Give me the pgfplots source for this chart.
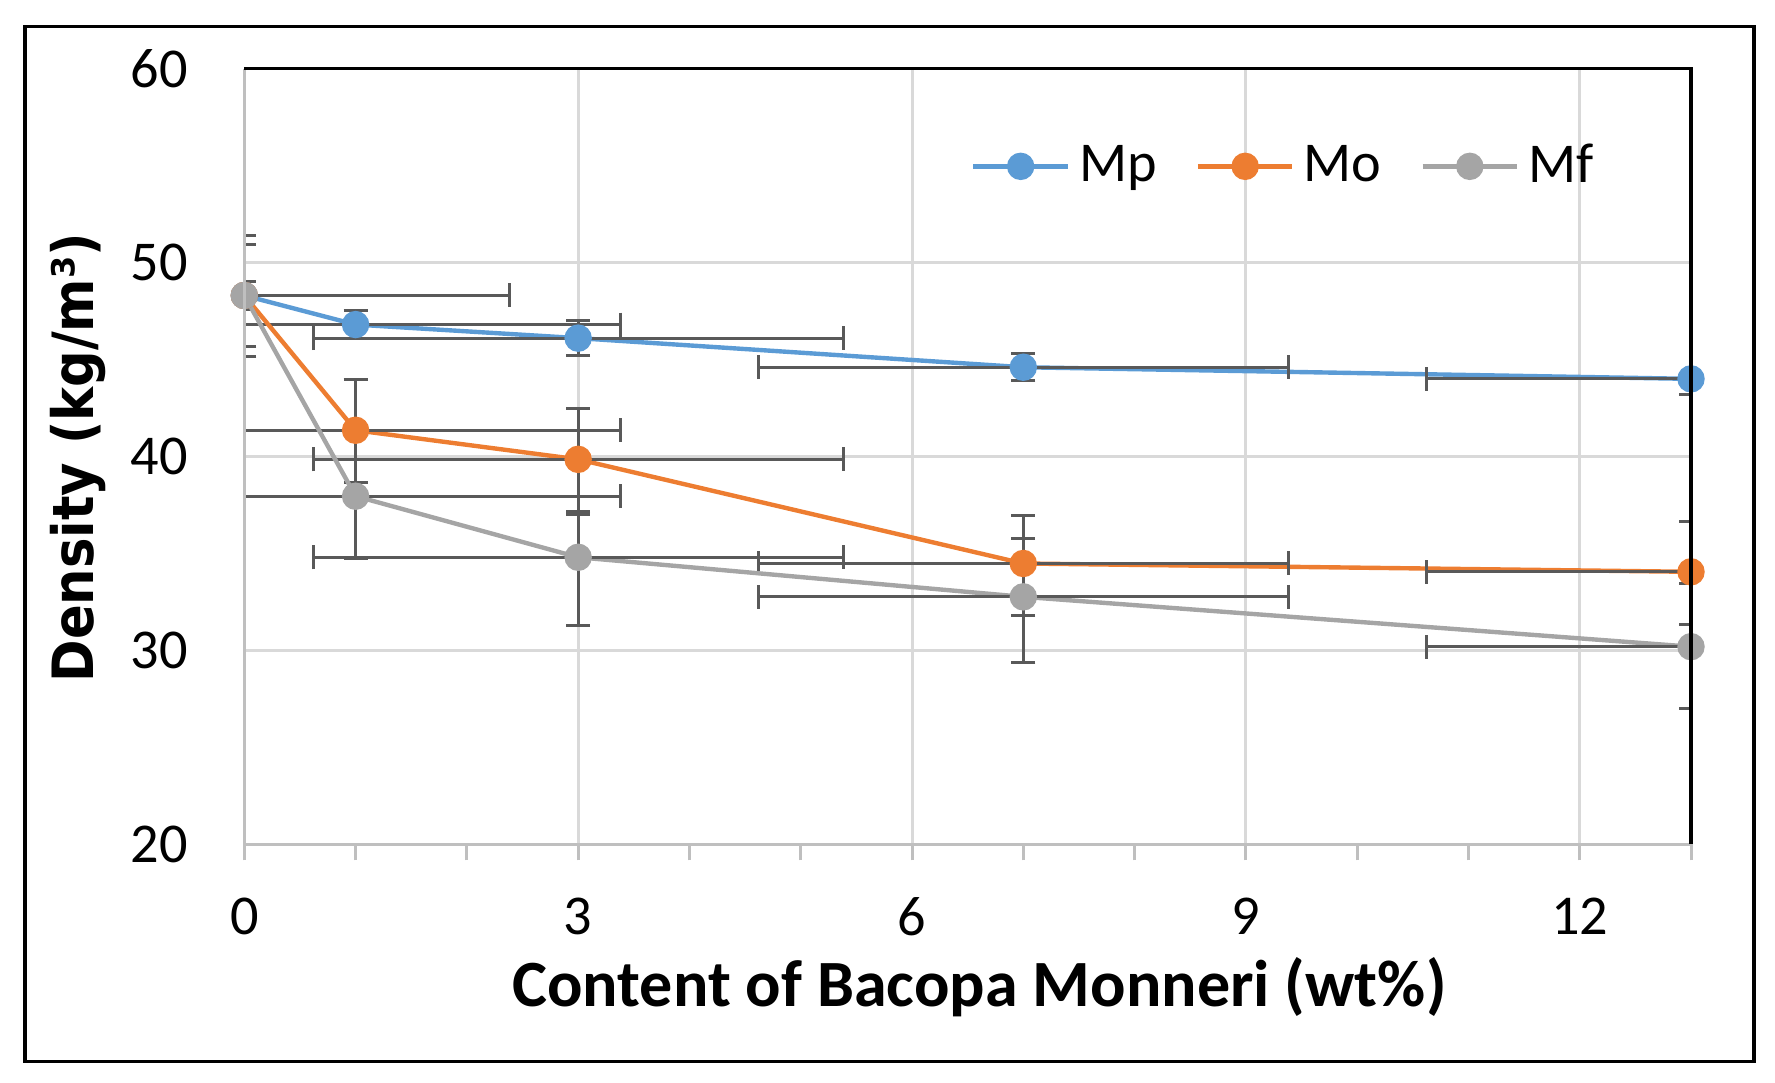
\documentclass[border=0pt]{standalone}
\usepackage{pgfplots}
\pgfplotsset{compat=1.18}
\usepackage{pgfplotstable}
\usepackage{fontspec}
\setmainfont{Carlito}
\newfontfamily\dvs{DejaVu Sans}[FakeStretch=0.9]
\definecolor{cMp}{HTML}{5B9BD5}
\definecolor{cMo}{HTML}{ED7D31}
\definecolor{cMf}{HTML}{A5A5A5}
\definecolor{cErr}{HTML}{595959}
\definecolor{cGrid}{HTML}{D9D9D9}
\definecolor{cAx}{HTML}{BFBFBF}

\pgfplotstableread{
x y ex eyp eym
0 48.3 2.38 0.7 0.7
1 46.8 2.38 0.72 0.72
3 46.1 2.38 0.9 0.9
7 44.6 2.38 0.7 0.7
13 44.0 2.38 0.0 0.8
}\Mp
\pgfplotstableread{
x y ex eyp eym
0 48.3 2.38 2.64 2.61
1 41.35 2.38 2.6 2.7
3 39.85 2.38 2.62 2.7
7 34.48 2.38 2.46 2.7
13 34.05 2.38 2.6 2.7
}\Mo
\pgfplotstableread{
x y ex eyp eym
0 48.3 2.38 3.1 3.13
1 37.95 2.38 3.2 3.2
3 34.8 2.38 2.2 3.5
7 32.76 2.38 3.0 3.38
13 30.19 2.38 3.26 3.19
}\Mf

\pgfplotsset{
  ser/.style={line width=1.25pt, mark=*, mark size=1.15mm, mark options={fill=#1, draw=#1, solid}, color=#1},
  eb/.style={error bars/.cd, x dir=both, x explicit, y dir=both, y explicit,
    error mark=-,
    error bar style={cErr, line width=0.3mm},
    error mark options={rotate=90, cErr, line width=0.3mm, mark size=1.2mm}},
}

\begin{document}
\begin{tikzpicture}
\useasboundingbox (-24.43mm,-23.8mm) rectangle (153.07mm,84.43mm);
\begin{axis}[
  name=ax, at={(0,0)}, anchor=south west,
  scale only axis, width=144.67mm, height=77.57mm,
  xmin=0, xmax=13, ymin=20, ymax=60,
  xtick={0,3,6,9,12}, minor xtick={1,2,4,5,7,8,10,11,13},
  ytick={20,30,40,50,60},
  axis line style={draw=none},
  grid=major, major grid style={cGrid, line width=0.3mm},
  xtick pos=left, ytick pos=left,
  tick align=outside,
  major tick length=1.6mm, minor tick length=1.6mm,
  xtick style={cAx, line width=0.3mm},
  ytick style={draw=none},
  tick label style={font=\fontsize{16}{19}\selectfont, inner sep=0pt},
  /pgf/number format/assume math mode=true,
  xticklabel style={anchor=north},
  xticklabel shift=3.7mm,
  yticklabel style={anchor=east},
  yticklabel shift=4mm,
  xlabel={Content of Bacopa Monneri (wt\%)},
  xlabel style={font=\bfseries\fontsize{18.8}{22}\selectfont, inner sep=0pt,
    at={([xshift=26.74mm,yshift=-16.27mm]axis description cs:0,0)}, anchor=base west},
  ylabel={Density (kg/m³)},
  ylabel style={font=\dvs\bfseries\fontsize{16.2}{19}\selectfont, inner sep=0pt,
    rotate=0, at={([xshift=-15.1mm]axis description cs:0,0.4985)}, anchor=base},
  legend columns=3,
  legend style={draw=none, fill=none, inner sep=0pt, outer sep=0pt,
    at={(0.5025,0.874)}, anchor=west,
    font=\fontsize{16}{19}\selectfont,
    nodes={inner sep=0pt},
    /tikz/every odd column/.append style={column sep=0.9mm},
    /tikz/every even column/.append style={column sep=3.9mm}},
  legend image code/.code={\draw[mark repeat=2,mark phase=2,#1] plot coordinates {(0mm,0mm) (4.72mm,0mm) (9.45mm,0mm)};},
]
\addplot[ser=cMp, eb] table[x=x,y=y,x error=ex,y error plus=eyp,y error minus=eym]{\Mp};
\addlegendentry{Mp}
\addplot[ser=cMo, eb] table[x=x,y=y,x error=ex,y error plus=eyp,y error minus=eym]{\Mo};
\addlegendentry{Mo}
\addplot[ser=cMf, eb] table[x=x,y=y,x error=ex,y error plus=eyp,y error minus=eym]{\Mf};
\addlegendentry{Mf}
\end{axis}
\draw[cAx, line width=0.3mm] (ax.north west) -- (ax.south west) -- (ax.south east);
\draw[black, line width=0.35mm] (ax.north west) -- (ax.north east) -- (ax.south east);
\draw[black, line width=0.33mm] (-21.93mm,-21.7mm) rectangle (150.97mm,81.8mm);
\end{tikzpicture}
\end{document}
